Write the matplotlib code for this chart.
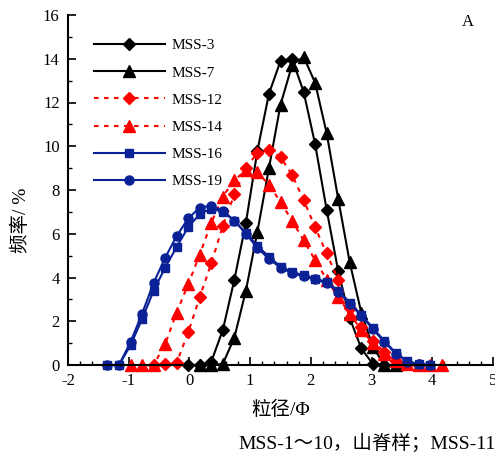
import matplotlib
matplotlib.use('Agg')
import matplotlib.pyplot as plt
from matplotlib.ticker import MultipleLocator

plt.rcParams['font.family'] = ['Liberation Serif', 'Noto Sans CJK SC']
plt.rcParams['axes.unicode_minus'] = False

# 粒径网格 (Φ)
phi = [-1.35, -1.16, -0.97, -0.78, -0.59, -0.40, -0.21, -0.02, 0.17, 0.36,
       0.55, 0.74, 0.93, 1.12, 1.31, 1.50, 1.69, 1.88, 2.07, 2.26,
       2.45, 2.64, 2.83, 3.02, 3.21, 3.40, 3.59, 3.78, 3.97, 4.16]

# 频率 (%)，每个样品从 phi 的某个位置开始
mss3 = [0, 0, 0.15, 1.6, 3.9, 6.5, 9.8, 12.4, 13.9, 14.0, 12.5, 10.1, 7.1,
        4.3, 2.15, 0.76, 0.05, 0]
mss7 = [0, 0, 0.05, 1.25, 3.4, 6.1, 9.0, 11.9, 13.7, 14.1, 12.9, 10.6, 7.6,
        4.7, 2.4, 0.84, 0, 0]
mss12 = [0, 0.05, 0.1, 1.5, 3.1, 4.65, 6.35, 7.8, 9.0, 9.7, 9.85, 9.5, 8.7,
         7.55, 6.3, 5.1, 3.9, 2.6, 1.75, 1.1, 0.6, 0.2, 0.05, 0]
mss14 = [0, 0, 0, 0.95, 2.4, 3.7, 5.05, 6.5, 7.7, 8.45, 8.9, 8.8, 8.25, 7.45,
         6.6, 5.7, 4.8, 3.9, 3.1, 2.35, 1.6, 1.0, 0.5, 0.2, 0.05, 0, 0, 0]
mss16 = [0, 0, 0.9, 2.1, 3.4, 4.45, 5.4, 6.3, 6.9, 7.15, 7.0, 6.6, 6.05, 5.45,
         4.95, 4.5, 4.25, 4.1, 3.95, 3.8, 3.4, 2.85, 2.3, 1.7, 1.1, 0.55, 0.18,
         0.03, 0]
mss19 = [0, 0, 1.05, 2.35, 3.75, 4.9, 5.9, 6.7, 7.2, 7.28, 7.05, 6.6, 6.0,
         5.35, 4.85, 4.45, 4.2, 4.05, 3.92, 3.73, 3.35, 2.8, 2.25, 1.65, 1.05,
         0.52, 0.15, 0.03, 0.02]

start3, start7, start12, start14, start16, start19 = 7, 8, 4, 2, 0, 0

red = '#ff0000'
blue = '#0a2296'
dots = (0, (2.2, 2.6))

fig = plt.figure(figsize=(4.95, 4.63), dpi=100)
ax = fig.add_axes([68/495, 1 - 365/463, 425/495, 350/463])

series = [
    (mss3, start3, 'MSS-3', 'k', '-', 'D', 6.5),
    (mss7, start7, 'MSS-7', 'k', '-', '^', 8),
    (mss12, start12, 'MSS-12', red, dots, 'D', 6.5),
    (mss14, start14, 'MSS-14', red, dots, '^', 8),
    (mss16, start16, 'MSS-16', blue, '-', 's', 5.5),
    (mss19, start19, 'MSS-19', blue, '-', 'o', 6.5),
]
for vals, s, lab, c, ls, mk, ms in series:
    ax.plot(phi[s:s + len(vals)], vals, color=c, linestyle=ls, lw=1.5,
            marker=mk, ms=ms, mfc=c, mec=c, label=lab, clip_on=False)

ax.set_xlim(-2, 5)
ax.set_ylim(0, 16)
ax.xaxis.set_major_locator(MultipleLocator(1))
ax.xaxis.set_minor_locator(MultipleLocator(0.2))
ax.yaxis.set_major_locator(MultipleLocator(2))
ax.yaxis.set_minor_locator(MultipleLocator(1))
ax.tick_params(which='major', direction='in', length=6, width=1.2,
               labelsize=12, pad=6)
ax.tick_params(which='minor', direction='in', length=3, width=1)
for side in ['top', 'right']:
    ax.spines[side].set_visible(False)
for side in ['left', 'bottom']:
    ax.spines[side].set_linewidth(1.5)

ax.set_xlabel('粒径/Φ', fontsize=14, labelpad=8)
ax.set_ylabel('频率/ %', fontsize=14)
ax.yaxis.set_label_coords(-0.09, 0.414)
ax.text(0.941, 0.98, 'A', transform=ax.transAxes, fontsize=12,
        ha='center', va='center')

ax.legend(loc='upper left', bbox_to_anchor=(0.06, 0.932), frameon=False,
          fontsize=11, handlelength=4.65, handletextpad=0.45,
          labelspacing=0.88, borderpad=0, borderaxespad=0)

fig.text(238/495, 1 - 443/463, 'MSS-1～10，山脊样；MSS-11', fontsize=14,
         ha='left', va='center')

fig.savefig('out.png', dpi=100)
